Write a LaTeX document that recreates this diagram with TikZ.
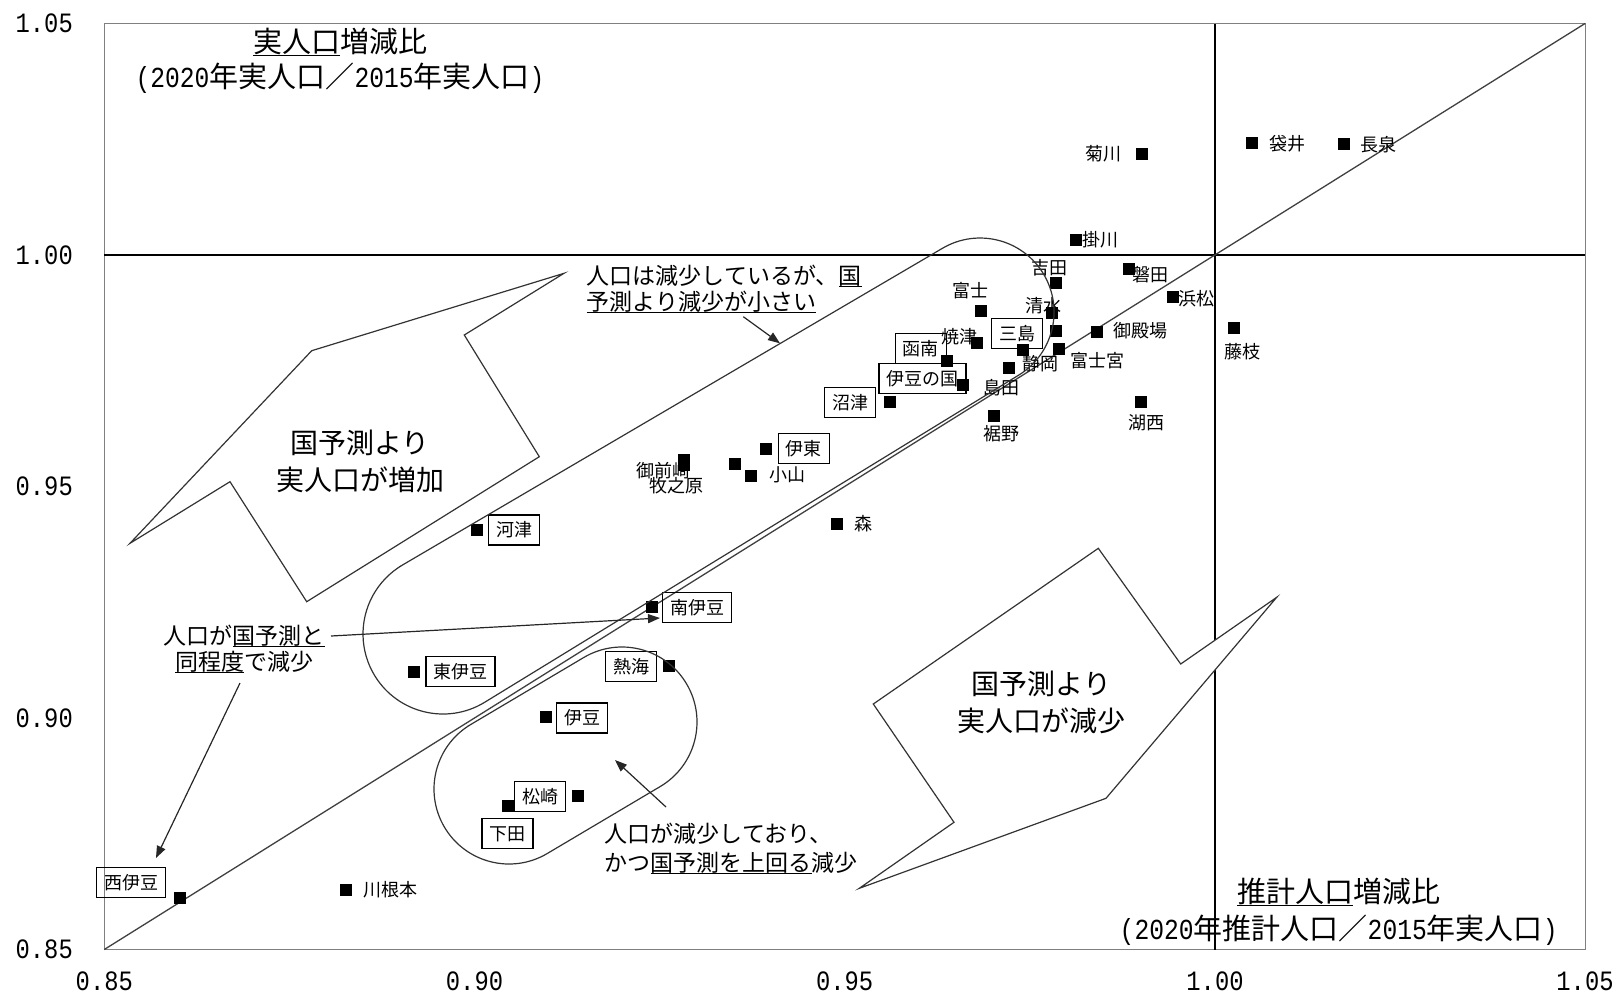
\documentclass[tikz,border=0pt]{standalone}
\usepackage{fontspec}
\setmainfont{Noto Sans CJK JP}
\newfontfamily\tk{Liberation Mono}[FakeStretch=0.85]
\usetikzlibrary{arrows.meta}
\newcommand{\uln}[1]{\setbox0\hbox{#1}\rlap{\rule[-0.12em]{\wd0}{1pt}}\box0}
\begin{document}
\begin{tikzpicture}[x=1pt,y=-1pt,
 mk/.style={rectangle, fill=black, minimum size=12pt, inner sep=0pt},
 lbl/.style={inner sep=0pt, font=\fontsize{18}{20}\selectfont},
 bx/.style={draw=black, line width=1.2pt, inner xsep=7.5pt, inner ysep=0pt, minimum height=30pt, font=\fontsize{18}{20}\selectfont},
 tick/.style={inner sep=0pt, font=\fontsize{28}{30}\selectfont\tk},
 note/.style={inner sep=0pt, font=\fontsize{23}{25.7}\selectfont},
 big/.style={inner sep=0pt, align=center, font=\fontsize{28}{36.7}\selectfont},
 ttl/.style={inner sep=0pt, align=center, font=\fontsize{29}{35}\selectfont},
 shp/.style={draw=black!80, line width=1.2pt, line join=miter},
 call/.style={draw=black!85, line width=1.2pt, -{Triangle[length=12pt,width=9pt]}}]
\useasboundingbox (0,0) rectangle (1615,994);
% frame and reference lines
\coordinate (BL) at (104.3,949.5);
\coordinate (TR) at (1585,23.5);
\coordinate (TL) at (104.3,23.5);
\coordinate (BR) at (1585,949.5);
\coordinate (H1) at (104.3,255);
\coordinate (H2) at (1585,255);
\coordinate (V1) at (1215,23.5);
\coordinate (V2) at (1215,949.5);
\draw[black!50, line width=1pt] (TL) rectangle (BR);
\draw[black, line width=1.5pt] (H1) -- (H2);
\draw[black, line width=1.5pt] (V1) -- (V2);
\draw[black!75, line width=1.3pt] (BL) -- (TR);
% tick labels
\node[tick, anchor=east] (y105) at (73,23.5) {1.05};
\node[tick, anchor=east] (y100) at (73,255) {1.00};
\node[tick, anchor=east] (y095) at (73,486.5) {0.95};
\node[tick, anchor=east] (y090) at (73,718) {0.90};
\node[tick, anchor=east] (y085) at (73,949.5) {0.85};
\node[tick] (x085) at (104.3,981) {0.85};
\node[tick] (x090) at (474.5,981) {0.90};
\node[tick] (x095) at (844.7,981) {0.95};
\node[tick] (x100) at (1215,981) {1.00};
\node[tick] (x105) at (1585,981) {1.05};
% boxed labels
\node[bx] (bmishima) at (1017.2,333.7) {三島};
\node[bx] (bkannami) at (920.8,348.7) {函南};
\node[bx] (bizunokuni) at (922.5,378.7) {伊豆の国};
\node[bx] (bnumazu) at (850,402.8) {沼津};
\node[bx] (bito) at (803.8,448.2) {伊東};
\node[bx] (bkawazu) at (514.2,530) {河津};
\node[bx] (bminamiizu) at (697,607.2) {南伊豆};
\node[bx] (bhigashiizu) at (460.5,671.7) {東伊豆};
\node[bx] (batami) at (631,666.5) {熱海};
\node[bx] (bizu) at (582,718) {伊豆};
\node[bx] (bmatsuzaki) at (540.3,796.7) {松崎};
\node[bx] (bshimoda) at (507.5,833.8) {下田};
\node[bx] (bnishiizu) at (131.3,882.7) {西伊豆};
% markers
\node[mk] (mkikugawa) at (1141.7,154) {};
\node[mk] (mfukuroi) at (1252.3,142.7) {};
\node[mk] (mnagaizumi) at (1344,144.3) {};
\node[mk] (mkakegawa) at (1075.7,240) {};
\node[mk] (miwata) at (1129,269.3) {};
\node[mk] (myoshida) at (1055.7,282.7) {};
\node[mk] (mhamamatsu) at (1173.3,297.3) {};
\node[mk] (mfuji) at (981,311) {};
\node[mk] (mshimizu) at (1052.3,313.3) {};
\node[mk] (mshizuoka) at (1055.7,331) {};
\node[mk] (mgotemba) at (1096.7,332) {};
\node[mk] (mfujieda) at (1234.3,328) {};
\node[mk] (myaizu) at (977,342.8) {};
\node[mk] (mmishima) at (1022.7,350) {};
\node[mk] (mfujinomiya) at (1058.7,349.3) {};
\node[mk] (mkannami) at (947.3,361.2) {};
\node[mk] (mshimada) at (1009,367.7) {};
\node[mk] (mizunokuni) at (963.3,384.7) {};
\node[mk] (mnumazu) at (890,402.3) {};
\node[mk] (mkosai) at (1141,402.3) {};
\node[mk] (msusono) at (994,416) {};
\node[mk] (mito) at (766,449) {};
\node[mk] (mnagaizumi2) at (735,464) {};
\node[mk] (moyama) at (750.7,475.7) {};
\node[mk] (momaezaki) at (684.3,460) {};
\node[mk] (mmakinohara) at (684.3,465) {};
\node[mk] (mmori) at (837,524) {};
\node[mk] (mkawazu) at (477.3,530) {};
\node[mk] (mminamiizu) at (652,606.8) {};
\node[mk] (mhigashiizu) at (414,672) {};
\node[mk] (matami) at (669,666.2) {};
\node[mk] (mizu) at (546,717) {};
\node[mk] (mmatsuzaki) at (577.6,795.8) {};
\node[mk] (mshimoda) at (508.3,806) {};
\node[mk] (mnishiizu) at (179.5,898) {};
\node[mk] (mkawanehon) at (346.4,889.7) {};
% plain labels
\node[lbl] (lkikugawa) at (1103.3,154) {菊川};
\node[lbl] (lfukuroi) at (1287.3,143.3) {袋井};
\node[lbl] (lnagaizumi) at (1378.3,144.3) {長泉};
\node[lbl] (lkakegawa) at (1100,239.3) {掛川};
\node[lbl] (liwata) at (1150,274.3) {磐田};
\node[lbl] (lyoshida) at (1049,267.7) {吉田};
\node[lbl] (lhamamatsu) at (1196.7,299) {浜松};
\node[lbl] (lfuji) at (970,291) {富士};
\node[lbl] (lshimizu) at (1043,306) {清水};
\node[lbl] (lgotemba) at (1140.7,330.7) {御殿場};
\node[lbl] (lfujieda) at (1242.7,352) {藤枝};
\node[lbl] (lyaizu) at (959,337) {焼津};
\node[lbl] (lshizuoka) at (1040,363.3) {静岡};
\node[lbl] (lfujinomiya) at (1097.5,360.7) {富士宮};
\node[lbl] (lshimada) at (1001.7,387.7) {島田};
\node[lbl] (lkosai) at (1146.7,422.7) {湖西};
\node[lbl] (lsusono) at (1001.7,433.3) {裾野};
\node[lbl] (loyama) at (787.3,475) {小山};
\node[lbl] (lomaezaki) at (663.3,471) {御前崎};
\node[lbl] (lmakinohara) at (676.7,486) {牧之原};
\node[lbl] (lmori) at (863.3,524) {森};
\node[lbl] (lkawanehon) at (390.9,889.5) {川根本};
% bands
\draw[shp] (402.5,565.0) -- (942.6,248.2) arc[start angle=-120.4, end angle=58.5, radius=74] -- (484.8,702.2) arc[start angle=58.5, end angle=239.6, radius=80] -- cycle;
\draw[shp] (470.75,724.49) -- (583.75,657.49) arc[start angle=-120.66, end angle=59.34, radius=75] -- (547.25,853.51) arc[start angle=59.34, end angle=239.34, radius=75] -- cycle;
% block arrows
\draw[shp, fill=white] (130,543.3) -- (311.7,350.7) -- (564,273.3) -- (464.3,335) -- (539.3,456.7) -- (306.7,601.7) -- (230,481.7) -- cycle;
\draw[shp, fill=white] (1098.3,548.3) -- (1180.7,664) -- (1276.7,597.3) -- (1106,798.3) -- (859.3,888.3) -- (954,822.3) -- (873.3,704) -- cycle;
\node[big] (tup) at (360,461.7) {国予測より\\実人口が増加};
\node[big] (tdown) at (1041.7,702.5) {国予測より\\実人口が減少};
% callouts
\node[note, align=left, anchor=west] (ca) at (586.7,288.8) {人口は減少しているが、\uln{国}\\\uln{予測より減少が小さい}};
\node[note, align=center] (cb) at (244.3,648.8) {人口が\uln{国予測と}\\\uln{同程度}で減少};
\node[note, align=left, anchor=west, font=\fontsize{23}{28.7}\selectfont] (cc) at (604.6,848.4) {人口が減少しており、\\かつ\uln{国予測を上回る}減少};
\coordinate (ca0) at (743.3,316.7);
\coordinate (ca1) at (780,343.3);
\coordinate (cb0) at (331,636);
\coordinate (cb1) at (660,618);
\coordinate (cb2) at (240,683);
\coordinate (cb3) at (156,858);
\coordinate (cc0) at (666,807);
\coordinate (cc1) at (615,760);
\draw[call] (ca0) -- (ca1);
\draw[call] (cb0) -- (cb1);
\draw[call] (cb2) -- (cb3);
\draw[call] (cc0) -- (cc1);
% axis titles
\node[ttl] (ttly) at (340,60.8) {\uln{実人口}増減比\\{\tk (2020}年実人口／{\tk 2015}年実人口{\tk )}};
\node[ttl, font=\fontsize{29}{37}\selectfont] (ttlx) at (1338.7,911.5) {\uln{推計人口}増減比\\{\tk (2020}年推計人口／{\tk 2015}年実人口{\tk )}};
\end{tikzpicture}
\end{document}
